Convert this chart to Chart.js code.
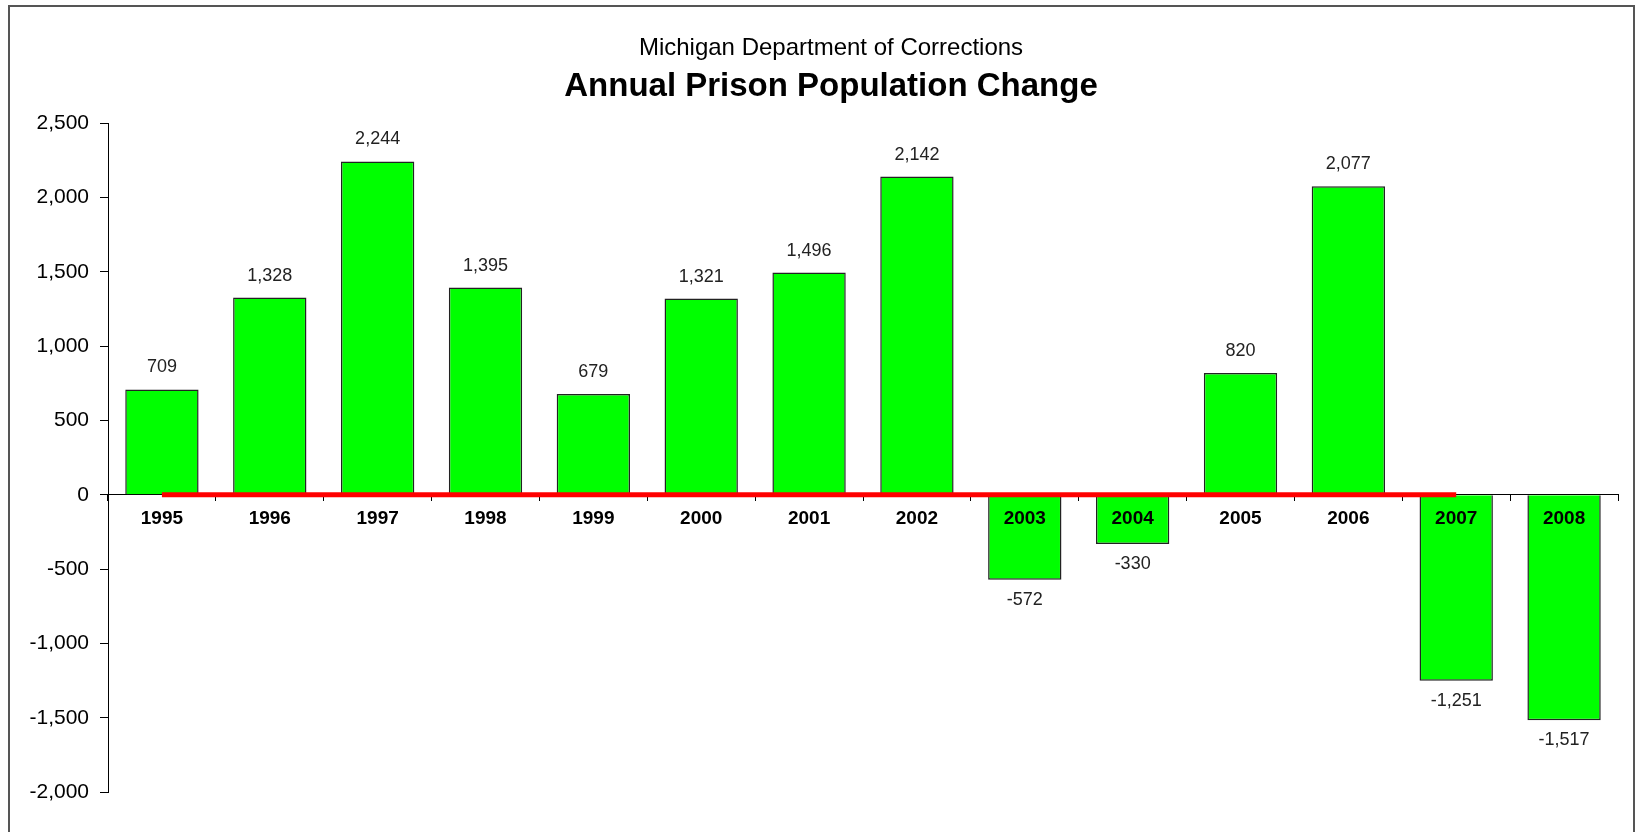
<!DOCTYPE html>
<html>
<head>
<meta charset="utf-8">
<script src="https://cdn.jsdelivr.net/npm/chart.js@4.4.1/dist/chart.umd.min.js"></script>
<style>
    html, body { margin: 0; padding: 0; background: #fff; overflow: hidden; }
    #wrap { position: relative; width: 1635px; height: 832px; }
    #frame {
        position: absolute; left: 8px; top: 5px; width: 1623px; height: 900px;
        border: 2px solid #555; pointer-events: none;
    }
</style>
</head>
<body>
<div id="wrap">
    <canvas id="prison-change-chart" width="1635" height="832"></canvas>
    <div id="frame"></div>
</div>
<script>
const years = ['1995', '1996', '1997', '1998', '1999', '2000', '2001', '2002', '2003', '2004', '2005', '2006', '2007', '2008'];
const populationChange = [709, 1328, 2244, 1395, 679, 1321, 1496, 2142, -572, -330, 820, 2077, -1251, -1517];
// red line along zero, 1995 to 2007
const zeroLine = [0, 0, 0, 0, 0, 0, 0, 0, 0, 0, 0, 0, 0, null];
const yMin = -2000, yMax = 2500, yStep = 500;

const FONT = 'Arial, "Liberation Sans", sans-serif';

// value labels above / below each bar
const barValueLabels = {
    id: 'barValueLabels',
    afterDatasetsDraw(chart) {
        const meta = chart.getDatasetMeta(1);
        const c = chart.ctx;
        c.save();
        c.font = '18px ' + FONT;
        c.fillStyle = '#222';
        c.textAlign = 'center';
        c.textBaseline = 'middle';
        meta.data.forEach((bar, i) => {
            const v = populationChange[i];
            const y = v >= 0 ? bar.y - 22 : bar.y + 20;
            c.fillText(v.toLocaleString('en-US'), bar.x, y);
        });
        c.restore();
    }
};

// the titles sit a bit right of the canvas centre
const nudgeTitles = {
    id: 'nudgeTitles',
    afterLayout(chart) {
        chart.boxes.forEach(b => {
            if (b.options && typeof b.options.text === 'string') {
                b.left += 18;
                b.right += 18;
            }
        });
    }
};

const ctx = document.getElementById('prison-change-chart');
new Chart(ctx, {
    data: {
        labels: years,
        datasets: [{
            type: 'line',
            label: 'zero',
            data: zeroLine,
            borderColor: '#ff0000',
            borderWidth: 5,
            pointRadius: 0,
            fill: false,
            order: 0
        }, {
            type: 'bar',
            label: 'Annual change',
            data: populationChange,
            backgroundColor: '#00ff00',
            borderColor: '#222',
            borderWidth: 1.5,
            barPercentage: 0.68,
            categoryPercentage: 1,
            order: 1
        }]
    },
    options: {
        responsive: false,
        animation: false,
        layout: { padding: { left: 8, right: 17, top: 0, bottom: 40 } },
        plugins: {
            legend: { display: false },
            tooltip: { enabled: false },
            subtitle: {
                display: true,
                text: 'Michigan Department of Corrections',
                color: '#000',
                font: { family: FONT, size: 24, weight: 'normal' },
                padding: { top: 34, bottom: 2 },
                weight: 3000
            },
            title: {
                display: true,
                text: 'Annual Prison Population Change',
                color: '#000',
                font: { family: FONT, size: 33, weight: 'bold' },
                padding: { top: 2, bottom: 17 }
            }
        },
        scales: {
            x: {
                position: { y: 0 },
                grid: { drawOnChartArea: false, drawTicks: true, tickLength: 6, color: '#000' },
                border: { display: true, color: '#000', width: 1 },
                ticks: {
                    z: 1,
                    padding: 7,
                    color: '#000',
                    maxRotation: 0,
                    font: { family: FONT, size: 19, weight: 'bold' }
                }
            },
            y: {
                min: yMin,
                max: yMax,
                afterFit: (scale) => { scale.width = 100; },
                grid: { drawOnChartArea: false, drawTicks: true, tickLength: 8, color: '#000' },
                border: { display: true, color: '#000', width: 1 },
                ticks: {
                    stepSize: yStep,
                    padding: 11,
                    color: '#000',
                    font: { family: FONT, size: 21 },
                    callback: (v) => v.toLocaleString('en-US')
                }
            }
        }
    },
    plugins: [barValueLabels, nudgeTitles]
});
</script>
</body>
</html>
